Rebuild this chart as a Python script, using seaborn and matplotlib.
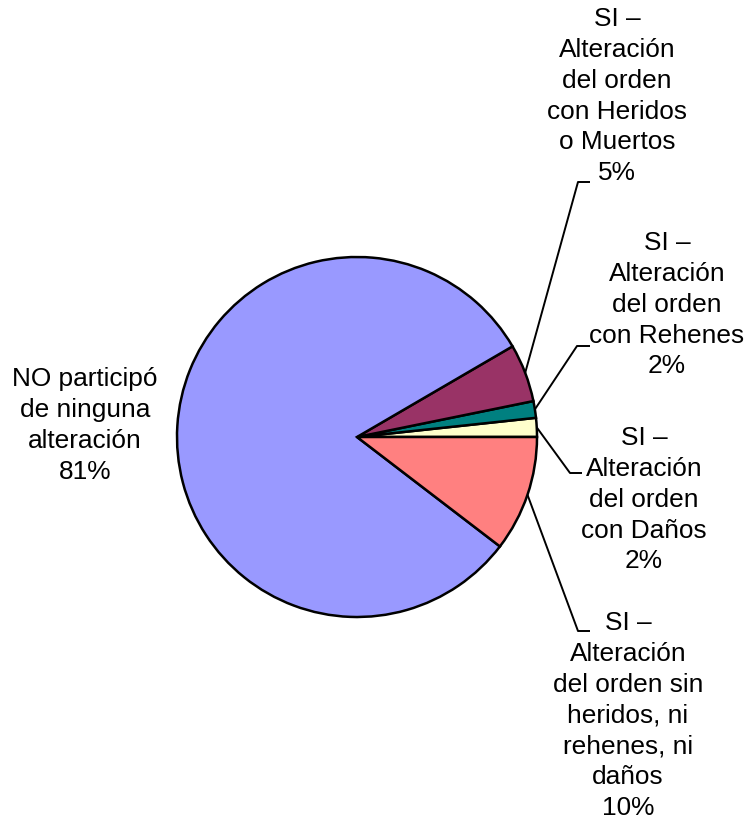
import matplotlib
matplotlib.use("Agg")
import matplotlib.pyplot as plt
import seaborn as sns
import numpy as np

categories = [
    "SI –\nAlteración\ndel orden\ncon Daños\n2%",
    "SI –\nAlteración\ndel orden\ncon Rehenes\n2%",
    "SI –\nAlteración\ndel orden\ncon Heridos\no Muertos\n5%",
    "NO participó\nde ninguna\nalteración\n81%",
    "SI –\nAlteración\ndel orden sin\nheridos, ni\nrehenes, ni\ndaños\n10%",
]
values = [1.7, 1.5, 5.2, 81.2, 10.4]
colors = ["#FFFFCC", "#008080", "#993366", "#9999FF", "#FF8080"]

sns.set_theme(style="white")
plt.rcParams["font.family"] = ["Liberation Sans", "DejaVu Sans"]

W, H = 755, 823
fig = plt.figure(figsize=(W / 100, H / 100), dpi=100)
ax = fig.add_axes([0, 0, 1, 1])
ax.set_xlim(0, W)
ax.set_ylim(0, H)
ax.set_aspect("equal")
ax.axis("off")

cx, cy, R = 357, H - 437, 180
wedges, _ = ax.pie(values, colors=colors, startangle=0, counterclock=True,
                   center=(cx, cy), radius=R,
                   wedgeprops=dict(edgecolor="black", linewidth=1.8))
ax.set_xlim(0, W)
ax.set_ylim(0, H)

# label layout: (elbow x, elbow y, end x, text center x, text top y) in pixels
layout = [
    (570, 473, 582, 644, 426),
    (577, 346, 590, 667, 231),
    (578, 182, 590, 617, 7),
    (None, None, None, 85, 367),
    (578, 631, 590, 628, 611),
]
fs = 18.9
for w, lab, (ex, ey, tx, txc, tty) in zip(wedges, categories, layout):
    ang = np.deg2rad((w.theta1 + w.theta2) / 2)
    if ex is not None:
        sx, sy = cx + R * np.cos(ang), cy + R * np.sin(ang)
        ax.plot([sx, ex, tx], [sy, H - ey, H - ey], color="black", lw=1.4,
                solid_capstyle="butt")
    ax.text(txc, H - tty, lab, ha="center", va="top", fontsize=fs,
            linespacing=1.36, color="black", multialignment="center")

fig.savefig("out.png", dpi=100, facecolor="white")
